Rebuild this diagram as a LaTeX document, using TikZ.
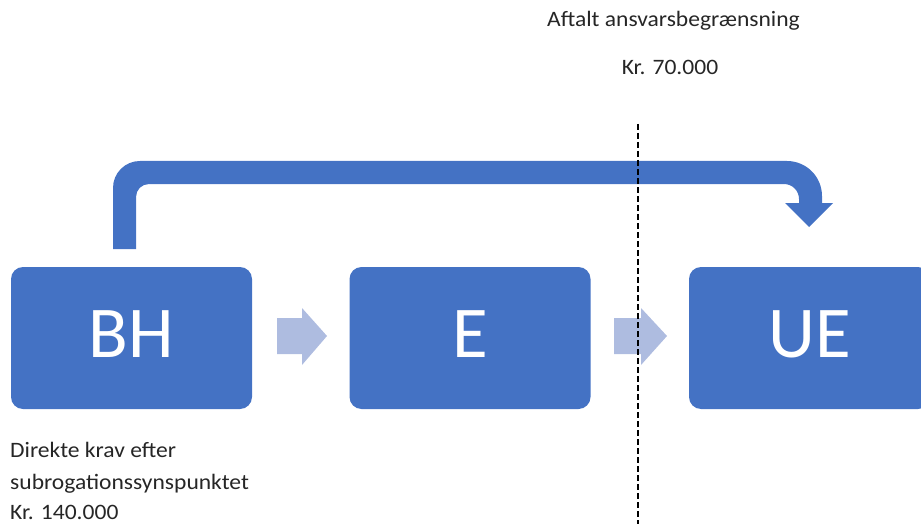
\documentclass[tikz,border=0pt]{standalone}
\usepackage{fontspec}
\setmainfont{Carlito}
\newfontfamily\lblfont[FakeStretch=1.07]{Carlito}
\definecolor{boxblue}{HTML}{4472C4}
\definecolor{lightarrow}{HTML}{AEBCE0}
\begin{document}
\begin{tikzpicture}[x=1pt,y=-1pt,
  block/.style={draw=none,fill=boxblue,rounded corners=12pt,minimum width=241pt,minimum height=142pt,inner sep=0pt},
  blocktext/.style={inner sep=0pt,text=white,font=\fontsize{73}{73}\selectfont,yshift=4pt},
  lbl/.style={inner sep=0pt,font=\lblfont\fontsize{22}{26}\selectfont,text=black!85}]
\useasboundingbox (0,0) rectangle (921,524);
\begin{scope}
\clip (0,0) rectangle (921,524);
\node[block] (bh) at (131.5,338) {};
\node[block] (e) at (470,338) {};
\node[block] (ue) at (809.5,338) {};
\end{scope}
\node[blocktext] (bhT) at (bh.center) {BH};
\node[blocktext] (eT) at (e.center) {E};
\node[blocktext] (ueT) at (ue.center) {UE};
% small arrows
\fill[lightarrow] (277,318) -- (302,318) -- (302,308) -- (327,336) -- (302,365) -- (302,354) -- (277,354) -- cycle;
\fill[lightarrow] (614,318) -- (641,318) -- (641,308) -- (667,336) -- (641,365) -- (641,354) -- (614,354) -- cycle;
% bent arrow
\fill[boxblue] (113,249) -- (113,188) .. controls (113,173) and (125,161) .. (140,161)
  -- (787,161) .. controls (806.3,161) and (822,176.7) .. (822,196)
  -- (822,203) -- (833,203) -- (809,227) -- (785,203) -- (799,203) -- (799,199)
  .. controls (799,190.7) and (792.3,184) .. (784,184)
  -- (149,184) .. controls (141.8,184) and (136,189.8) .. (136,197)
  -- (136,249) -- cycle;
% dashed line
\coordinate (dtop) at (638,124);
\coordinate (dbot) at (638,524);
\draw[black, line width=1.2pt, dash pattern=on 6pt off 3pt] (dtop) -- (dbot);
% texts
\node[lbl,anchor=base] (t1) at (673.5,27) {Aftalt ansvarsbegrænsning};
\node[lbl,anchor=base] (t2) at (670,75) {Kr. 70.000};
\node[lbl,anchor=base west] (b1) at (10,457) {Direkte krav efter};
\node[lbl,anchor=base west] (b2) at (10,489) {subrogationssynspunktet};
\node[lbl,anchor=base west] (b3) at (10,519.5) {Kr. 140.000};
\end{tikzpicture}
\end{document}
